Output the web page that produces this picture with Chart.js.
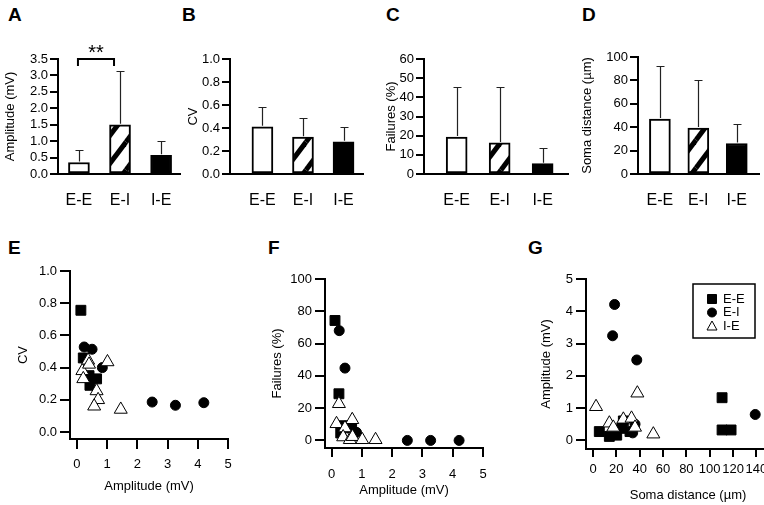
<!DOCTYPE html>
<html>
<head>
<meta charset="utf-8">
<script src="https://cdn.jsdelivr.net/npm/chart.js@4.4.0/dist/chart.umd.min.js"></script>
<style>
  html, body { margin: 0; width: 764px; height: 505px; overflow: hidden; background: #fff; }
  body { position: relative; font-family: 'Liberation Sans', Arial, sans-serif; }
  canvas { position: absolute; }
  .letra { position: absolute; font-weight: bold; font-size: 19px; line-height: 19px; color: #000; }
</style>
</head>
<body>
<div class="letra" style="left:8px;top:5px">A</div>
<div class="letra" style="left:182px;top:5px">B</div>
<div class="letra" style="left:386px;top:5px">C</div>
<div class="letra" style="left:582px;top:5px">D</div>
<div class="letra" style="left:8px;top:238px">E</div>
<div class="letra" style="left:268px;top:238px">F</div>
<div class="letra" style="left:528px;top:238px">G</div>

<canvas id="cA" width="195" height="190" style="left:0;top:30px"></canvas>
<canvas id="cB" width="195" height="190" style="left:180px;top:30px"></canvas>
<canvas id="cC" width="200" height="190" style="left:375px;top:30px"></canvas>
<canvas id="cD" width="194" height="192" style="left:570px;top:28px"></canvas>
<canvas id="cE" width="255" height="255" style="left:0;top:250px"></canvas>
<canvas id="cF" width="250" height="250" style="left:258px;top:255px"></canvas>
<canvas id="cG" width="272" height="250" style="left:528px;top:255px"></canvas>

<script>
// Categorías de conexión
const categorias = ['E-E', 'E-I', 'I-E'];

// Valores medios y error (solo hacia arriba) de las gráficas de barras
const amplitudMedia = [0.35, 1.50, 0.57];
const amplitudError = [0.37, 1.62, 0.42];
const cvMedia = [0.41, 0.32, 0.28];
const cvError = [0.17, 0.165, 0.13];
const fallosMedia = [19.3, 16.2, 5.4];
const fallosError = [26.1, 29.2, 8.2];
const distMedia = [47, 39.3, 26.1];
const distError = [45, 40.7, 16.3];

// Marcas de los ejes
const ticksAmpBar = [0, 0.5, 1, 1.5, 2, 2.5, 3, 3.5];
const ticksCV = [0, 0.2, 0.4, 0.6, 0.8, 1];
const ticksFallosBar = [0, 10, 20, 30, 40, 50, 60];
const ticksDistBar = [0, 20, 40, 60, 80, 100];
const ticksAmpX = [0, 1, 2, 3, 4, 5];
const ticksFallos = [0, 20, 40, 60, 80, 100];
const ticksAmpY = [0, 1, 2, 3, 4, 5];
const ticksDist = [0, 20, 40, 60, 80, 100, 120, 140];

// Puntos de dispersión [x, y] - E: amplitud vs CV
const eeAmpCV = [[0.13, 0.756], [0.21, 0.46], [0.40, 0.35], [0.43, 0.29], [0.65, 0.33]];
const eiAmpCV = [[0.24, 0.528], [0.50, 0.514], [0.84, 0.40], [2.49, 0.186], [3.26, 0.166], [4.20, 0.182]];
const ieAmpCV = [[0.18, 0.38], [0.21, 0.33], [0.37, 0.445], [0.40, 0.42], [1.01, 0.435], [0.65, 0.255], [0.70, 0.20], [0.57, 0.16], [1.45, 0.14]];

// F: amplitud vs fallos
const eeAmpFallos = [[0.11, 74.3], [0.24, 28.9], [0.35, 9.1], [0.30, 4.6], [0.66, 7.7]];
const eiAmpFallos = [[0.25, 68], [0.44, 44.8], [0.82, 5.0], [2.50, 0], [3.27, 0], [4.21, 0]];
const ieAmpFallos = [[0.24, 22.7], [0.16, 10.3], [0.68, 12.8], [0.44, 7.7], [0.38, 2.1], [0.60, 0.4], [0.69, 2.3], [1.01, 0.4], [1.45, 0.4]];

// G: distancia vs amplitud
const eeDistAmp = [[5.4, 0.27], [14, 0.12], [20.3, 0.16], [24.6, 0.37], [26, 0.6], [31.7, 0.27], [110.6, 1.32], [110.6, 0.32], [118.3, 0.32]];
const eiDistAmp = [[18.5, 4.21], [16.8, 3.24], [37.5, 2.49], [139, 0.8], [34, 0.23], [36, 0.5]];
const ieDistAmp = [[2.6, 1.04], [38, 1.46], [14, 0.53], [26, 0.65], [33, 0.68], [17.4, 0.40], [36, 0.4], [51.7, 0.19]];

Chart.defaults.font.family = "'Liberation Sans', Arial, sans-serif";
Chart.defaults.color = '#000';
Chart.defaults.animation = false;
Chart.defaults.events = [];
Chart.defaults.plugins.legend.display = false;
Chart.defaults.plugins.tooltip.enabled = false;

// Patrón rayado para las barras E-I
function crearRayado() {
    const c = document.createElement('canvas');
    const w = 21, h = 28;
    c.width = w; c.height = h;
    const g = c.getContext('2d');
    g.fillStyle = '#fff';
    g.fillRect(0, 0, w, h);
    g.strokeStyle = '#000';
    g.lineWidth = 5;
    [[0, 0], [w, 0], [-w, 0], [0, h], [0, -h]].forEach(([dx, dy]) => {
        g.beginPath();
        g.moveTo(dx, h + dy);
        g.lineTo(w + dx, dy);
        g.stroke();
    });
    return g.createPattern(c, 'repeat');
}
const rayado = crearRayado();

// Plugin para dibujar las barras de error
const pluginError = {
    id: 'barrasError',
    afterDatasetsDraw(chart, args, opts) {
        const { ctx, scales: { x, y } } = chart;
        const datos = chart.data.datasets[0].data;
        ctx.save();
        ctx.strokeStyle = '#222';
        ctx.lineWidth = 1.2;
        opts.errores.forEach((e, i) => {
            const px = Math.round(x.getPixelForValue(datos[i].x)) + 0.5;
            const y0 = y.getPixelForValue(datos[i].y);
            const y1 = Math.round(y.getPixelForValue(datos[i].y + e)) + 0.5;
            ctx.beginPath();
            ctx.moveTo(px, y0 - 1);
            ctx.lineTo(px, y1);
            ctx.moveTo(px - 4, y1);
            ctx.lineTo(px + 4, y1);
            ctx.stroke();
        });
        ctx.restore();
    }
};

// Plugin para el corchete de significancia (A)
const pluginSignif = {
    id: 'signif',
    afterDraw(chart) {
        const { ctx, scales: { x, y } } = chart;
        const x1 = x.getPixelForValue(1) - 1;
        const x2 = x.getPixelForValue(2) - 6;
        const yy = y.getPixelForValue(3.5);
        ctx.save();
        ctx.strokeStyle = '#000';
        ctx.lineWidth = 2;
        ctx.beginPath();
        ctx.moveTo(x1, yy + 7);
        ctx.lineTo(x1, yy);
        ctx.lineTo(x2, yy);
        ctx.lineTo(x2, yy + 7);
        ctx.stroke();
        ctx.fillStyle = '#000';
        ctx.font = "20px 'Liberation Sans', Arial, sans-serif";
        ctx.textAlign = 'center';
        ctx.textBaseline = 'alphabetic';
        ctx.fillText('**', (x1 + x2) / 2, yy);
        ctx.restore();
    }
};

// Recuadro de la leyenda de G (en píxeles del canvas)
const cajaLeyenda = { izq: 165, arriba: 29, ancho: 62, alto: 54, marca: 19, texto: 30, primera: 15, paso: 13.5 };

// Plugin para la leyenda con recuadro (solo G)
const pluginLeyenda = {
    id: 'leyendaG',
    afterDatasetsDraw(chart) {
        const b = cajaLeyenda;
        const ctx = chart.ctx;
        ctx.save();
        ctx.strokeStyle = '#000';
        ctx.lineWidth = 1.5;
        ctx.strokeRect(b.izq, b.arriba, b.ancho, b.alto);
        ctx.font = "13px 'Liberation Sans', Arial, sans-serif";
        ctx.textBaseline = 'middle';
        ctx.textAlign = 'left';
        chart.data.datasets.forEach((ds, i) => {
            const cx = b.izq + b.marca;
            const cy = b.arriba + b.primera + i * b.paso;
            ctx.fillStyle = ds.backgroundColor;
            ctx.strokeStyle = ds.borderColor;
            ctx.lineWidth = 1;
            ctx.beginPath();
            if (ds.pointStyle === 'rect') {
                ctx.rect(cx - 4.5, cy - 4.5, 9, 9);
            } else if (ds.pointStyle === 'circle') {
                ctx.arc(cx, cy, 4.5, 0, Math.PI * 2);
            } else {
                ctx.moveTo(cx, cy - 5);
                ctx.lineTo(cx + 5, cy + 4);
                ctx.lineTo(cx - 5, cy + 4);
                ctx.closePath();
            }
            ctx.fill();
            ctx.stroke();
            ctx.fillStyle = '#000';
            ctx.fillText(ds.label, b.izq + b.texto, cy);
        });
        ctx.restore();
    }
};

// Crear gráfica de barras
function crearBarras(id, medias, errores, ticksY, decimales, tituloY, cfg, extra) {
    return new Chart(document.getElementById(id), {
        type: 'bar',
        data: {
            datasets: [{
                data: medias.map((v, i) => ({ x: i + 1, y: v })),
                backgroundColor: ['#fff', rayado, '#000'],
                borderColor: '#000',
                borderWidth: 2,
                borderSkipped: false,
                barThickness: 21
            }]
        },
        options: {
            responsive: false,
            layout: { padding: { top: cfg.padTop, right: cfg.padRight, left: 0, bottom: 0 } },
            plugins: { barrasError: { errores: errores } },
            scales: {
                x: {
                    type: 'linear',
                    offset: false,
                    min: cfg.xMin,
                    max: cfg.xMax,
                    afterBuildTicks: s => { s.ticks = categorias.map((c, i) => ({ value: i + 1 })); },
                    afterFit: s => { s.height = cfg.altoX; },
                    ticks: {
                        callback: v => categorias[v - 1],
                        font: { size: 16 },
                        padding: 17,
                        maxRotation: 0,
                        autoSkip: false
                    },
                    grid: { display: false, drawTicks: false, offset: false },
                    border: { color: '#000', width: 2 }
                },
                y: {
                    min: ticksY[0],
                    max: ticksY[ticksY.length - 1],
                    afterBuildTicks: s => { s.ticks = ticksY.map(v => ({ value: v })); },
                    afterFit: s => { s.width = cfg.anchoY; },
                    ticks: {
                        callback: v => v.toFixed(decimales),
                        font: { size: 13 },
                        padding: 2,
                        autoSkip: false
                    },
                    grid: { drawOnChartArea: false, color: '#000', lineWidth: 2, tickLength: 8 },
                    border: { color: '#000', width: 2 },
                    title: {
                        display: true,
                        text: tituloY,
                        font: { size: 13 },
                        padding: { top: cfg.padTitulo, bottom: 0 }
                    }
                }
            }
        },
        plugins: [pluginError].concat(extra || [])
    });
}

// Crear gráfica de dispersión con los tres grupos
function crearDispersion(id, ee, ei, ie, ticksX, ticksY, decimalesY, tituloX, tituloY, cfg, extra) {
    const pts = arr => arr.map(([x, y]) => ({ x, y }));
    return new Chart(document.getElementById(id), {
        type: 'scatter',
        data: {
            datasets: [
                { label: 'E-E', data: pts(ee), pointStyle: 'rect', pointRadius: 7, backgroundColor: '#000', borderColor: '#000', borderWidth: 1, order: 3 },
                { label: 'E-I', data: pts(ei), pointStyle: 'circle', pointRadius: 5, backgroundColor: '#000', borderColor: '#000', borderWidth: 1, order: 2 },
                { label: 'I-E', data: pts(ie), pointStyle: 'triangle', pointRadius: 7.5, backgroundColor: '#fff', borderColor: '#000', borderWidth: 1, order: 1 }
            ]
        },
        options: {
            responsive: false,
            layout: { padding: { top: cfg.padTop, right: cfg.padRight, left: 0, bottom: 0 } },
            scales: {
                x: {
                    type: 'linear',
                    min: cfg.xMin,
                    max: cfg.xMax,
                    afterBuildTicks: s => { s.ticks = ticksX.map(v => ({ value: v })); },
                    afterFit: s => { s.height = cfg.altoX; },
                    ticks: { font: { size: 13 }, padding: cfg.padTickX, maxRotation: 0, autoSkip: false },
                    grid: { drawOnChartArea: false, color: '#000', lineWidth: 2, tickLength: cfg.largoTickX },
                    border: { color: '#000', width: 2 },
                    title: { display: true, text: tituloX, font: { size: 13 }, padding: { top: 0, bottom: cfg.padTituloX } }
                },
                y: {
                    min: cfg.yMin,
                    max: cfg.yMax,
                    afterBuildTicks: s => { s.ticks = ticksY.map(v => ({ value: v })); },
                    afterFit: s => { s.width = cfg.anchoY; },
                    ticks: { font: { size: 13 }, padding: 3, autoSkip: false, callback: v => v.toFixed(decimalesY) },
                    grid: { drawOnChartArea: false, color: '#000', lineWidth: 2, tickLength: 10 },
                    border: { color: '#000', width: 2 },
                    title: { display: true, text: tituloY, font: { size: 13 }, padding: { top: cfg.padTitulo, bottom: 0 } }
                }
            }
        },
        plugins: extra || []
    });
}

// Gráficas de barras A-D
crearBarras('cA', amplitudMedia, amplitudError, ticksAmpBar, 1, 'Amplitude (mV)',
    { padTop: 29, padRight: 15, altoX: 46, anchoY: 58, xMin: 0.49, xMax: 3.46, padTitulo: 3 }, [pluginSignif]);
crearBarras('cB', cvMedia, cvError, ticksCV, 1, 'CV',
    { padTop: 29, padRight: 12, altoX: 46, anchoY: 50, xMin: 0.2, xMax: 3.48, padTitulo: 6 });
crearBarras('cC', fallosMedia, fallosError, ticksFallosBar, 0, 'Failures (%)',
    { padTop: 29, padRight: 7, altoX: 46, anchoY: 49, xMin: 0.24, xMax: 3.59, padTitulo: 9 });
crearBarras('cD', distMedia, distError, ticksDistBar, 0, 'Soma distance (µm)',
    { padTop: 29, padRight: 0, altoX: 46, anchoY: 68, xMin: 0.43, xMax: 3.59, padTitulo: 10 });

// Gráficas de dispersión E-G
crearDispersion('cE', eeAmpCV, eiAmpCV, ieAmpCV, ticksAmpX, ticksCV, 1, 'Amplitude (mV)', 'CV',
    { padTop: 21, padRight: 27, altoX: 66, anchoY: 70, xMin: -0.23, xMax: 5, yMin: -0.0435, yMax: 1,
      padTitulo: 16, padTickX: 8, largoTickX: 10, padTituloX: 11 });
crearDispersion('cF', eeAmpFallos, eiAmpFallos, ieAmpFallos, ticksAmpX, ticksFallos, 0, 'Amplitude (mV)', 'Failures (%)',
    { padTop: 24, padRight: 25, altoX: 57, anchoY: 67, xMin: -0.22, xMax: 5, yMin: -4.7, yMax: 100,
      padTitulo: 12, padTickX: 10, largoTickX: 9, padTituloX: 7 });
crearDispersion('cG', eeDistAmp, eiDistAmp, ieDistAmp, ticksDist, ticksAmpY, 0, 'Soma distance (µm)', 'Amplitude (mV)',
    { padTop: 24, padRight: 10, altoX: 56, anchoY: 58, xMin: -6, xMax: 168.8, yMin: -0.27, yMax: 5,
      padTitulo: 11, padTickX: 5, largoTickX: 8, padTituloX: 2 }, [pluginLeyenda]);
</script>
</body>
</html>
